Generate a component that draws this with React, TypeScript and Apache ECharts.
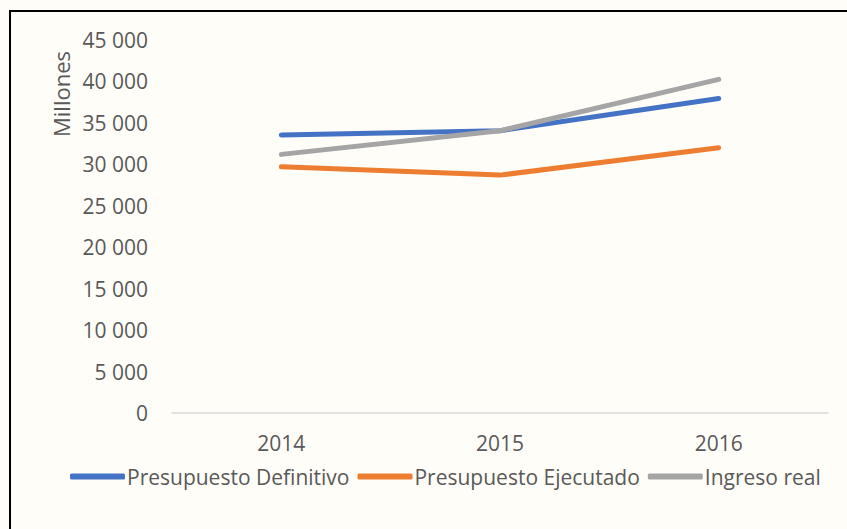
import React, { useEffect, useRef } from "react";
import * as echarts from "echarts";

const years = ["2014", "2015", "2016"];
const presupuestoDefinitivo = [33550, 34050, 37950];
const presupuestoEjecutado = [29700, 28700, 32000];
const ingresoReal = [31200, 34050, 40250];
const seriesNames = ["Presupuesto Definitivo", "Presupuesto Ejecutado", "Ingreso real"];
const seriesColors = ["#4472C4", "#ED7D31", "#A5A5A5"];
const axisTitle = "Millones";

const FONT = "'Open Sans', 'Noto Sans', sans-serif";
const FS = 21;

export default function App() {
  const ref = useRef<HTMLDivElement>(null);
  useEffect(() => {
    if (!ref.current) return;
    const chart = echarts.init(ref.current, null, { renderer: "svg" });
    const values = [presupuestoDefinitivo, presupuestoEjecutado, ingresoReal];
    chart.setOption({
      animation: false,
      backgroundColor: "#FFFDF8",
      textStyle: { fontFamily: FONT },
      grid: { left: 172, right: 19, top: 40, bottom: 116, containLabel: false },
      graphic: [
        { type: "line", shape: { x1: 9, y1: 11, x2: 847, y2: 11 }, style: { stroke: "#000", lineWidth: 2 } },
        { type: "line", shape: { x1: 10, y1: 10, x2: 10, y2: 529 }, style: { stroke: "#000", lineWidth: 2 } },
        {
          type: "text",
          x: 61,
          y: 94,
          rotation: Math.PI / 2,
          style: {
            text: axisTitle,
            fill: "#595959",
            fontSize: 22,
            fontFamily: FONT,
            align: "center",
            verticalAlign: "middle",
          },
        },
      ],
      legend: {
        data: seriesNames,
        left: 70,
        top: 466,
        padding: 0,
        itemWidth: 55,
        itemHeight: 6,
        itemGap: 8,
        icon: "roundRect",
        textStyle: { color: "#595959", fontSize: FS, fontFamily: FONT, padding: [0, 0, 0, -3] },
      },
      xAxis: {
        type: "category",
        data: years,
        axisLine: { lineStyle: { color: "#D9D9D9", width: 1.5 } },
        axisTick: { show: false },
        axisLabel: { color: "#595959", fontSize: FS, margin: 19, fontFamily: FONT },
      },
      yAxis: {
        type: "value",
        min: 0,
        max: 45000,
        interval: 5000,
        position: "left",
        axisLine: { show: false },
        axisTick: { show: false },
        splitLine: { show: false },
        axisLabel: {
          color: "#595959",
          fontSize: FS,
          margin: 24,
          fontFamily: FONT,
          formatter: (v: number) => String(v).replace(/\B(?=(\d{3})+(?!\d))/g, " "),
        },
      },
      series: seriesNames.map((name, i) => ({
        name,
        type: "line",
        data: values[i],
        symbol: "none",
        color: seriesColors[i],
        lineStyle: { width: 5, cap: "round", join: "round", color: seriesColors[i] },
      })),
    });
    return () => chart.dispose();
  }, []);
  return <div ref={ref} style={{ width: 847, height: 529, position: "absolute", left: 0, top: 0 }} />;
}
